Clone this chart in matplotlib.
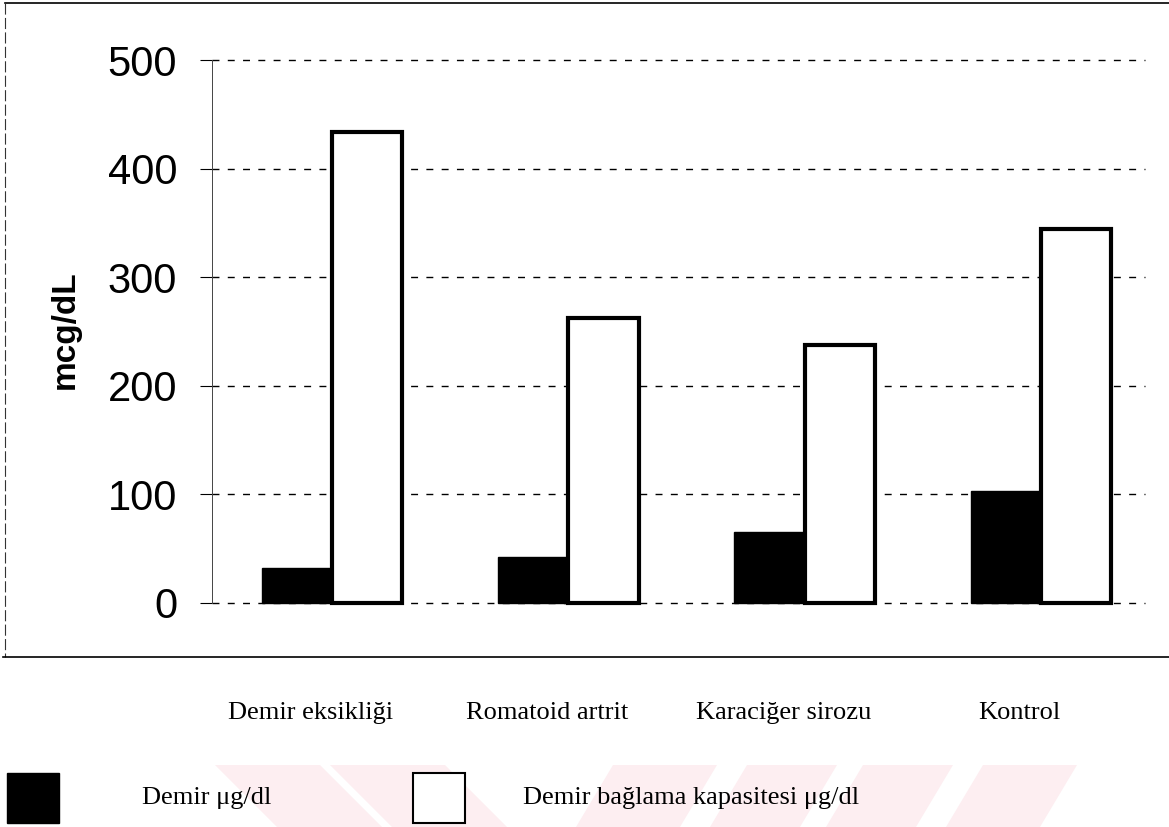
import matplotlib.pyplot as plt
from matplotlib.patches import Rectangle, Polygon
from matplotlib.lines import Line2D
import numpy as np

categories = ["Demir eksikliği", "Romatoid artrit", "Karaciğer sirozu", "Kontrol"]
demir = [32, 42, 65, 103]
baglama = [434, 262, 238, 344]
series_labels = ["Demir μg/dl", "Demir bağlama kapasitesi μg/dl"]
yticks = [0, 100, 200, 300, 400, 500]

W, H = 1169, 827


def px(x, y):
    # pixel position (from top-left) to figure fraction
    return (x / W, 1 - y / H)


fig = plt.figure(figsize=(W / 100, H / 100), dpi=100)
fig.patch.set_facecolor("white")

# faint pink stripes along the bottom edge
pink = "#fdeef1"
stripes = [
    [(215, 765), (320, 765), (382, 827), (277, 827)],
    [(330, 765), (445, 765), (507, 827), (392, 827)],
    [(613, 765), (717, 765), (680, 827), (576, 827)],
    [(747, 765), (837, 765), (800, 827), (710, 827)],
    [(863, 765), (953, 765), (916, 827), (826, 827)],
    [(983, 765), (1077, 765), (1040, 827), (946, 827)],
]
for s in stripes:
    fig.add_artist(Polygon([px(*p) for p in s], closed=True, facecolor=pink,
                           edgecolor="none", transform=fig.transFigure, zorder=0))

x0, x1 = px(212, 0)[0], px(1145, 0)[0]
yb, yt = px(0, 603)[1], px(0, 60)[1]
ax = fig.add_axes([x0, yb, x1 - x0, yt - yb])
ax.set_facecolor("none")

x = np.arange(len(categories))
w = 0.298
ax.bar(x - w / 2, demir, w, color="black", edgecolor="black", linewidth=1,
       zorder=3, clip_on=False)
ax.bar(x + w / 2, baglama, w, color="white", edgecolor="black", linewidth=3,
       zorder=3, clip_on=False)

ax.set_xlim(-0.508, 3.44)
ax.set_ylim(0, 500)
ax.set_yticks(yticks)
ax.set_yticklabels([str(t) for t in yticks], fontsize=30, family="Liberation Sans")
ax.tick_params(axis="y", length=9, width=0.8, pad=16, direction="out")
ax.set_xticks([])

for t in yticks:
    ax.axhline(t, color="black", linewidth=1, linestyle=(0, (5, 6)),
               zorder=1, clip_on=False)

for s in ["top", "right", "bottom"]:
    ax.spines[s].set_visible(False)
ax.spines["left"].set_linewidth(0.7)
ax.spines["left"].set_color("#444444")

ax.set_ylabel("mcg/dL", fontsize=24, fontweight="bold", family="Liberation Sans",
              va="center")
ax.yaxis.set_label_coords(-0.1576, 0.503)

# category names under the plot area
for xi, name in zip(x, categories):
    ax.text(xi - 0.09, -0.2026, name, transform=ax.get_xaxis_transform(),
            ha="center", va="center", fontsize=19, family="Liberation Serif")

# outer frame
fig.add_artist(Line2D([px(5, 0)[0], 1], [px(0, 3)[1]] * 2, color="black",
                      linewidth=1.2, transform=fig.transFigure))
fig.add_artist(Line2D([px(5, 0)[0]] * 2, [px(0, 3)[1], px(0, 657)[1]], color="#333333",
                      linewidth=0.8, linestyle=(0, (10, 3)), transform=fig.transFigure))
fig.add_artist(Line2D([px(3, 0)[0], 1], [px(0, 657)[1]] * 2, color="black",
                      linewidth=1.2, transform=fig.transFigure))

# legend swatches
bw, bh = 52 / W, 50 / H
fig.add_artist(Rectangle(px(7, 823), bw, bh, facecolor="black", edgecolor="black",
                         transform=fig.transFigure))
fig.add_artist(Rectangle(px(413, 823), bw, bh, facecolor="white", edgecolor="black",
                         linewidth=1.5, transform=fig.transFigure))
fig.text(*px(142, 798), series_labels[0], ha="left", va="center", fontsize=19,
         family="Liberation Serif")
fig.text(*px(523, 798), series_labels[1], ha="left", va="center", fontsize=19,
         family="Liberation Serif")

fig.savefig("out.png", dpi=100, facecolor="white")
